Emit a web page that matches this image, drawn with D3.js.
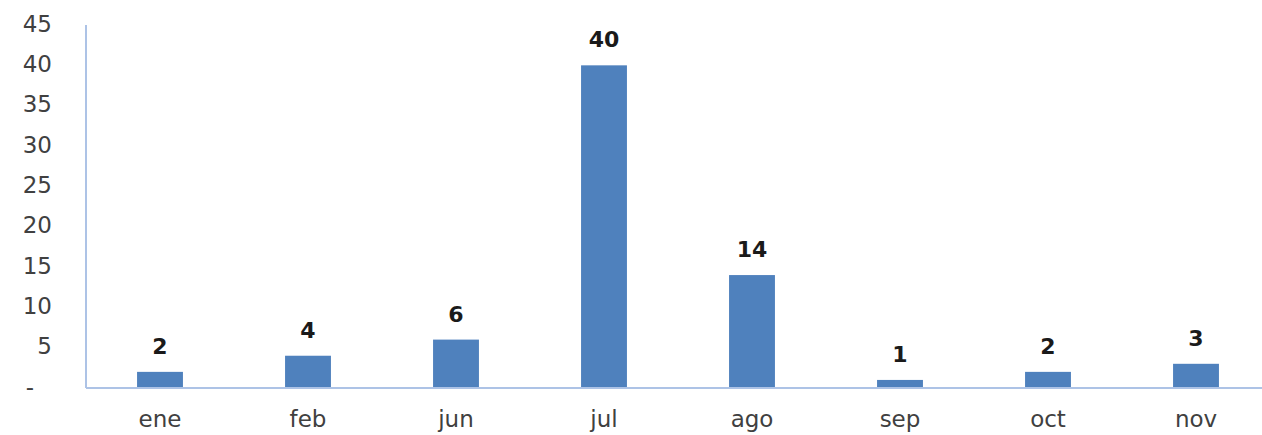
<!DOCTYPE html>
<html>
<head>
<meta charset="utf-8">
<script src="https://cdn.jsdelivr.net/npm/d3@7"></script>
<style>
  html, body { margin: 0; padding: 0; background: #ffffff; }
  svg { display: block; }
</style>
</head>
<body>
<svg id="chart" width="1262" height="435"></svg>
<script>
const categories = ["ene", "feb", "jun", "jul", "ago", "sep", "oct", "nov"];
const values = [2, 4, 6, 40, 14, 1, 2, 3];
const yTicks = [0, 5, 10, 15, 20, 25, 30, 35, 40, 45];
const yTickLabels = ["-", "5", "10", "15", "20", "25", "30", "35", "40", "45"];

const svg = d3.select("#chart");
const W = 1262, H = 435;
const x0 = 86, x1 = 1270, yBase = 388, yTop = 25;

const x = d3.scaleBand().domain(categories).range([x0, x1])
  .paddingInner(0.69).paddingOuter(0.345);
const y = d3.scaleLinear().domain([0, 45]).range([yBase, yTop]);

const font = "'DejaVu Sans', sans-serif";

// Bars
svg.append("g").selectAll("rect").data(values).join("rect")
  .attr("x", (d, i) => x(categories[i]))
  .attr("y", d => y(d))
  .attr("width", x.bandwidth())
  .attr("height", d => y(0) - y(d))
  .attr("fill", "#4f81bd");

// Y axis
const yAxis = d3.axisLeft(y).tickValues(yTicks)
  .tickFormat((d, i) => yTickLabels[i]).tickSize(0).tickPadding(34);
const gy = svg.append("g").attr("transform", `translate(${x0},0)`).call(yAxis);
gy.select(".domain").attr("stroke", "#adc3e6").attr("stroke-width", 2)
  .attr("d", `M0,${yTop}V${yBase}`);
gy.selectAll(".tick text").attr("font-family", font).attr("font-size", 23)
  .attr("fill", "#404040").attr("dy", "0.27em");
gy.selectAll(".tick text").filter((d, i) => i === 0).attr("dx", -18);

// X axis
const xAxis = d3.axisBottom(x).tickSize(0).tickPadding(23);
const gx = svg.append("g").attr("transform", `translate(0,${yBase})`).call(xAxis);
gx.select(".domain").attr("stroke", "#adc3e6").attr("stroke-width", 2)
  .attr("d", `M${x0},0H${W}`);
gx.selectAll(".tick text").attr("font-family", font).attr("font-size", 23)
  .attr("fill", "#404040");

// Value labels
svg.append("g").selectAll("text").data(values).join("text")
  .attr("x", (d, i) => x(categories[i]) + x.bandwidth() / 2)
  .attr("y", d => y(d) - 18)
  .attr("text-anchor", "middle")
  .attr("font-family", font).attr("font-size", 22).attr("font-weight", "bold")
  .attr("fill", "#1a1a1a")
  .text(d => d);
</script>
</body>
</html>
